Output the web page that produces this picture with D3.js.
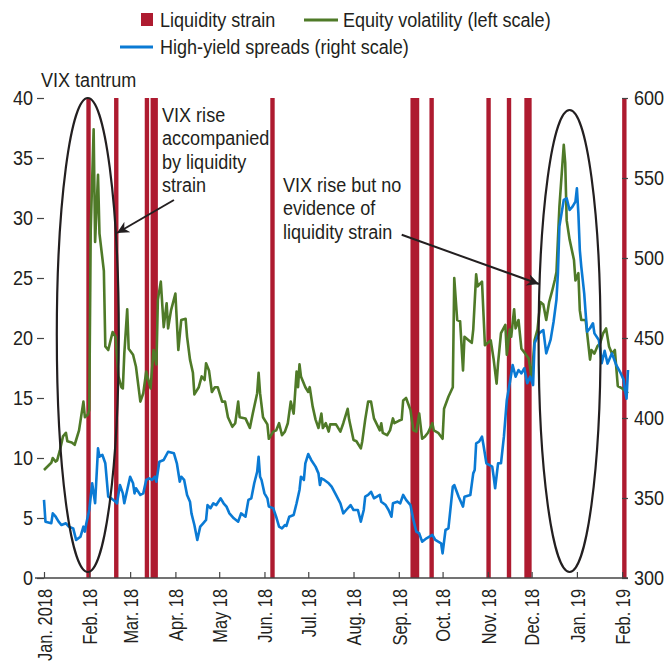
<!DOCTYPE html>
<html>
<head>
<meta charset="utf-8">
<script src="https://cdn.jsdelivr.net/npm/d3@7"></script>
<style>
  body { margin: 0; background: #fff; }
  text { font-family: "Liberation Sans Narrow", "Arial Narrow", "Liberation Sans", Arial, sans-serif; fill: #231f20; }
</style>
</head>
<body>
<svg id="chart" width="669" height="668"></svg>
<script>
// ===================================================
// LIQUIDITY STRAIN vs VIX vs HIGH-YIELD SPREADS
// ---------------------------------------------------
// Left scale: VIX level, right scale: HY spread (bps).
// Red bands mark days with liquidity strain.
// ===================================================

// Month ticks on the x axis and their labels
const monthTicks = ["2018-01-01", "2018-02-01", "2018-03-01", "2018-04-01", "2018-05-01", "2018-06-01", "2018-07-01",
    "2018-08-01", "2018-09-01", "2018-10-01", "2018-11-01", "2018-12-01", "2019-01-01", "2019-02-01"];
const monthLabels = ["Jan. 2018", "Feb. 18", "Mar. 18", "Apr. 18", "May 18", "Jun. 18", "Jul. 18",
    "Aug. 18", "Sep. 18", "Oct. 18", "Nov. 18", "Dec. 18", "Jan. 19", "Feb. 19"];

const leftTicks = [0, 5, 10, 15, 20, 25, 30, 35, 40];
const rightTicks = [300, 350, 400, 450, 500, 550, 600];

// Liquidity strain episodes: [start, end]
const strainEpisodes = [
    ["2018-01-30", "2018-02-02"], ["2018-02-18", "2018-02-21"], ["2018-03-11", "2018-03-14"],
    ["2018-03-15", "2018-03-20"], ["2018-06-05", "2018-06-08"], ["2018-09-09", "2018-09-15"],
    ["2018-09-22", "2018-09-25"], ["2018-10-31", "2018-11-03"], ["2018-11-14", "2018-11-17"],
    ["2018-11-26", "2018-12-01"], ["2019-02-01", "2019-02-04"]
];

// Equity volatility (VIX), left scale
const vix = [
    ["2018-01-01", 9.0], ["2018-01-06", 9.6], ["2018-01-07", 10.0], ["2018-01-09", 9.7], ["2018-01-10", 9.8],
    ["2018-01-12", 10.7], ["2018-01-14", 11.8], ["2018-01-16", 12.1], ["2018-01-17", 11.4], ["2018-01-20", 11.3],
    ["2018-01-22", 11.1], ["2018-01-23", 11.5], ["2018-01-25", 12.3], ["2018-01-28", 14.7], ["2018-01-29", 13.4],
    ["2018-01-31", 13.6], ["2018-02-01", 14.0], ["2018-02-02", 29.0], ["2018-02-04", 37.4], ["2018-02-05", 28.0],
    ["2018-02-07", 33.6], ["2018-02-08", 28.7], ["2018-02-11", 25.6], ["2018-02-12", 19.3], ["2018-02-14", 19.0],
    ["2018-02-17", 20.5], ["2018-02-19", 20.1], ["2018-02-21", 16.8], ["2018-02-23", 15.9], ["2018-02-24", 15.8],
    ["2018-02-25", 18.7], ["2018-02-27", 22.4], ["2018-02-28", 19.1], ["2018-03-03", 18.6], ["2018-03-05", 17.6],
    ["2018-03-08", 14.7], ["2018-03-10", 15.4], ["2018-03-12", 17.2], ["2018-03-15", 15.8], ["2018-03-17", 19.0],
    ["2018-03-19", 17.8], ["2018-03-20", 23.2], ["2018-03-22", 24.7], ["2018-03-24", 20.9], ["2018-03-26", 22.9],
    ["2018-03-27", 20.8], ["2018-03-29", 22.3], ["2018-04-01", 23.7], ["2018-04-03", 19.0], ["2018-04-05", 21.5],
    ["2018-04-08", 21.6], ["2018-04-09", 20.1], ["2018-04-11", 18.2], ["2018-04-13", 17.1], ["2018-04-14", 15.3],
    ["2018-04-17", 15.9], ["2018-04-19", 16.8], ["2018-04-21", 16.5], ["2018-04-22", 17.9], ["2018-04-24", 17.3],
    ["2018-04-26", 15.5], ["2018-04-28", 15.9], ["2018-04-30", 15.9], ["2018-05-03", 14.7], ["2018-05-05", 14.7],
    ["2018-05-07", 13.4], ["2018-05-10", 12.6], ["2018-05-12", 12.9], ["2018-05-14", 14.7], ["2018-05-15", 13.4],
    ["2018-05-19", 13.3], ["2018-05-22", 12.5], ["2018-05-24", 13.7], ["2018-05-27", 15.4], ["2018-05-28", 17.1],
    ["2018-05-29", 15.4], ["2018-05-31", 13.4], ["2018-06-03", 12.8], ["2018-06-04", 11.6], ["2018-06-07", 12.2],
    ["2018-06-09", 12.3], ["2018-06-11", 12.9], ["2018-06-13", 11.9], ["2018-06-15", 12.2], ["2018-06-17", 12.9],
    ["2018-06-19", 14.7], ["2018-06-21", 13.7], ["2018-06-22", 15.4], ["2018-06-23", 17.2], ["2018-06-24", 15.9],
    ["2018-06-25", 17.8], ["2018-06-26", 16.8], ["2018-06-29", 15.9], ["2018-07-01", 15.5], ["2018-07-02", 15.9],
    ["2018-07-04", 14.3], ["2018-07-06", 13.2], ["2018-07-08", 12.5], ["2018-07-10", 13.7], ["2018-07-11", 12.5],
    ["2018-07-13", 12.9], ["2018-07-15", 12.2], ["2018-07-16", 12.8], ["2018-07-20", 12.8], ["2018-07-23", 12.2],
    ["2018-07-25", 12.9], ["2018-07-28", 14.1], ["2018-07-29", 13.2], ["2018-08-01", 11.5], ["2018-08-03", 11.4],
    ["2018-08-06", 10.8], ["2018-08-07", 11.4], ["2018-08-09", 13.2], ["2018-08-11", 14.7], ["2018-08-13", 14.7],
    ["2018-08-15", 13.3], ["2018-08-17", 12.8], ["2018-08-19", 12.3], ["2018-08-20", 12.9], ["2018-08-21", 12.1],
    ["2018-08-24", 11.9], ["2018-08-26", 12.3], ["2018-08-28", 13.3], ["2018-08-29", 12.9], ["2018-09-01", 13.1],
    ["2018-09-03", 13.2], ["2018-09-04", 14.8], ["2018-09-06", 15.0], ["2018-09-09", 14.0], ["2018-09-11", 12.3],
    ["2018-09-13", 12.2], ["2018-09-15", 13.7], ["2018-09-17", 11.6], ["2018-09-19", 11.8], ["2018-09-21", 12.1],
    ["2018-09-24", 12.9], ["2018-09-25", 12.3], ["2018-09-28", 12.1], ["2018-10-01", 11.6], ["2018-10-02", 14.1],
    ["2018-10-05", 15.1], ["2018-10-08", 15.9], ["2018-10-09", 25.0], ["2018-10-11", 21.5], ["2018-10-13", 21.4],
    ["2018-10-15", 17.3], ["2018-10-16", 20.1], ["2018-10-19", 19.8], ["2018-10-21", 19.6], ["2018-10-22", 20.7],
    ["2018-10-24", 25.3], ["2018-10-25", 24.3], ["2018-10-28", 24.7], ["2018-10-30", 19.4], ["2018-11-01", 19.6],
    ["2018-11-03", 19.8], ["2018-11-05", 18.2], ["2018-11-07", 16.2], ["2018-11-08", 17.9], ["2018-11-10", 20.4],
    ["2018-11-13", 21.1], ["2018-11-14", 18.6], ["2018-11-16", 20.7], ["2018-11-17", 20.1], ["2018-11-19", 22.4],
    ["2018-11-20", 20.8], ["2018-11-22", 21.5], ["2018-11-24", 19.1], ["2018-11-26", 18.8], ["2018-11-29", 18.3],
    ["2018-12-01", 16.6], ["2018-12-03", 19.8], ["2018-12-05", 20.7], ["2018-12-07", 23.0], ["2018-12-09", 22.8],
    ["2018-12-11", 21.5], ["2018-12-13", 23.0], ["2018-12-15", 23.9], ["2018-12-17", 24.9], ["2018-12-18", 25.5],
    ["2018-12-19", 28.2], ["2018-12-20", 30.9], ["2018-12-23", 36.1], ["2018-12-24", 34.6], ["2018-12-25", 29.8],
    ["2018-12-27", 28.2], ["2018-12-30", 26.5], ["2018-12-31", 24.8], ["2019-01-02", 25.4], ["2019-01-03", 22.3],
    ["2019-01-04", 21.5], ["2019-01-07", 21.5], ["2019-01-08", 20.4], ["2019-01-10", 18.2], ["2019-01-11", 19.0],
    ["2019-01-13", 18.7], ["2019-01-15", 19.3], ["2019-01-17", 19.6], ["2019-01-19", 20.4], ["2019-01-21", 20.8],
    ["2019-01-23", 19.3], ["2019-01-25", 18.7], ["2019-01-27", 19.0], ["2019-01-29", 16.0], ["2019-02-01", 15.8],
    ["2019-02-03", 15.6], ["2019-02-05", 15.4]
];

// High-yield spreads (bps), right scale
const highYield = [
    ["2018-01-01", 348.8], ["2018-01-02", 335.2], ["2018-01-06", 334.2], ["2018-01-07", 340.4], ["2018-01-09", 338.3],
    ["2018-01-11", 335.2], ["2018-01-13", 333.1], ["2018-01-16", 334.2], ["2018-01-18", 332.1], ["2018-01-21", 331.0],
    ["2018-01-23", 323.8], ["2018-01-26", 325.8], ["2018-01-28", 332.1], ["2018-01-29", 329.0], ["2018-01-30", 334.2],
    ["2018-02-01", 342.5], ["2018-02-03", 359.2], ["2018-02-05", 346.7], ["2018-02-07", 381.0], ["2018-02-08", 375.8],
    ["2018-02-10", 376.9], ["2018-02-12", 371.7], ["2018-02-14", 350.8], ["2018-02-16", 349.8], ["2018-02-19", 347.7],
    ["2018-02-20", 346.7], ["2018-02-22", 358.1], ["2018-02-24", 352.9], ["2018-02-25", 346.7], ["2018-03-01", 363.3],
    ["2018-03-03", 359.2], ["2018-03-04", 352.9], ["2018-03-05", 356.1], ["2018-03-08", 351.9], ["2018-03-10", 352.9],
    ["2018-03-12", 361.3], ["2018-03-14", 362.3], ["2018-03-16", 361.3], ["2018-03-18", 363.3], ["2018-03-19", 360.2],
    ["2018-03-21", 372.7], ["2018-03-24", 373.8], ["2018-03-27", 378.9], ["2018-03-31", 377.9], ["2018-04-02", 371.7],
    ["2018-04-04", 360.2], ["2018-04-05", 363.3], ["2018-04-07", 361.3], ["2018-04-09", 351.9], ["2018-04-11", 347.7],
    ["2018-04-12", 340.4], ["2018-04-14", 333.1], ["2018-04-16", 323.8], ["2018-04-18", 332.1], ["2018-04-20", 334.2],
    ["2018-04-22", 336.3], ["2018-04-23", 345.6], ["2018-04-25", 343.6], ["2018-04-27", 346.7], ["2018-04-29", 345.6],
    ["2018-05-02", 349.8], ["2018-05-04", 346.7], ["2018-05-06", 344.6], ["2018-05-08", 340.4], ["2018-05-11", 337.3],
    ["2018-05-14", 335.2], ["2018-05-16", 340.4], ["2018-05-19", 338.3], ["2018-05-21", 348.8], ["2018-05-23", 349.8],
    ["2018-05-25", 359.2], ["2018-05-27", 366.4], ["2018-05-28", 375.8], ["2018-05-29", 363.3], ["2018-05-30", 361.3],
    ["2018-06-01", 352.9], ["2018-06-03", 349.8], ["2018-06-04", 344.6], ["2018-06-07", 343.6], ["2018-06-09", 338.3],
    ["2018-06-11", 332.1], ["2018-06-13", 331.0], ["2018-06-15", 333.1], ["2018-06-16", 332.5], ["2018-06-18", 338.3],
    ["2018-06-21", 339.4], ["2018-06-23", 346.7], ["2018-06-25", 355.0], ["2018-06-26", 363.3], ["2018-06-28", 361.3],
    ["2018-06-29", 371.7], ["2018-07-01", 377.5], ["2018-07-03", 373.8], ["2018-07-06", 369.6], ["2018-07-08", 365.4],
    ["2018-07-09", 358.1], ["2018-07-10", 362.3], ["2018-07-12", 361.3], ["2018-07-15", 359.2], ["2018-07-17", 357.1],
    ["2018-07-20", 351.9], ["2018-07-23", 346.7], ["2018-07-25", 340.4], ["2018-07-27", 342.5], ["2018-07-30", 345.6],
    ["2018-08-01", 342.5], ["2018-08-04", 342.5], ["2018-08-06", 335.2], ["2018-08-08", 342.5], ["2018-08-09", 350.8],
    ["2018-08-11", 351.9], ["2018-08-13", 353.9], ["2018-08-15", 349.8], ["2018-08-17", 350.8], ["2018-08-19", 351.9],
    ["2018-08-20", 347.7], ["2018-08-23", 345.6], ["2018-08-25", 342.5], ["2018-08-27", 338.3], ["2018-08-28", 346.7],
    ["2018-08-31", 347.7], ["2018-09-02", 346.7], ["2018-09-04", 351.9], ["2018-09-06", 348.8], ["2018-09-09", 345.6],
    ["2018-09-11", 336.3], ["2018-09-13", 329.0], ["2018-09-15", 327.9], ["2018-09-17", 322.7], ["2018-09-20", 324.8],
    ["2018-09-24", 326.9], ["2018-09-26", 323.8], ["2018-09-28", 322.7], ["2018-09-30", 321.7], ["2018-10-01", 315.4],
    ["2018-10-03", 330.0], ["2018-10-05", 331.0], ["2018-10-08", 357.1], ["2018-10-09", 358.1], ["2018-10-12", 350.8],
    ["2018-10-15", 344.6], ["2018-10-16", 350.8], ["2018-10-20", 351.9], ["2018-10-22", 365.4], ["2018-10-23", 367.5],
    ["2018-10-24", 384.2], ["2018-10-26", 385.2], ["2018-10-28", 388.3], ["2018-10-29", 383.1], ["2018-10-31", 371.7],
    ["2018-11-04", 369.6], ["2018-11-05", 363.3], ["2018-11-06", 356.1], ["2018-11-08", 371.7], ["2018-11-10", 371.7],
    ["2018-11-12", 388.3], ["2018-11-14", 411.3], ["2018-11-16", 421.7], ["2018-11-18", 433.1], ["2018-11-20", 425.8],
    ["2018-11-22", 430.0], ["2018-11-24", 427.9], ["2018-11-26", 431.1], ["2018-11-28", 421.7], ["2018-11-30", 425.8],
    ["2018-12-02", 420.6], ["2018-12-03", 446.7], ["2018-12-06", 452.9], ["2018-12-09", 455.0], ["2018-12-11", 440.4],
    ["2018-12-14", 449.0], ["2018-12-16", 460.0], ["2018-12-18", 474.0], ["2018-12-19", 490.4], ["2018-12-20", 519.6],
    ["2018-12-23", 536.3], ["2018-12-25", 537.3], ["2018-12-27", 530.0], ["2018-12-29", 532.1], ["2018-12-31", 535.2],
    ["2019-01-01", 543.5], ["2019-01-02", 528.0], ["2019-01-03", 505.0], ["2019-01-04", 494.6], ["2019-01-06", 477.9],
    ["2019-01-07", 465.4], ["2019-01-08", 453.9], ["2019-01-10", 456.1], ["2019-01-12", 459.2], ["2019-01-13", 452.9],
    ["2019-01-16", 448.8], ["2019-01-17", 442.5], ["2019-01-18", 434.2], ["2019-01-20", 442.0], ["2019-01-22", 434.0],
    ["2019-01-25", 440.4], ["2019-01-28", 433.0], ["2019-01-31", 428.0], ["2019-02-02", 424.0], ["2019-02-03", 417.0],
    ["2019-02-04", 412.0], ["2019-02-05", 430.0]
];

// Colours
const RED = "#ae1b30";
const GREEN = "#4f7a28";
const BLUE = "#0a7ad4";
const INK = "#231f20";

const svg = d3.select("#chart");
const parseDay = d3.timeParse("%Y-%m-%d");

// Narrow every text of a selection (the regular sans -> condensed look),
// keeping its anchor point in place
function squeeze(sel, k = 0.86) {
    sel.each(function () {
        const t = d3.select(this);
        const x0 = +t.attr("x") || 0;
        const base = t.attr("transform") || "";
        t.attr("x", x0 / k).attr("transform", `${base} scale(${k},1)`);
        t.selectAll("tspan").each(function () {
            const s = d3.select(this);
            if (s.attr("x") != null) s.attr("x", +s.attr("x") / k);
        });
    });
}

// Scales
const x = d3.scaleTime()
    .domain([parseDay("2018-01-01"), parseDay("2019-02-05")])
    .range([44, 628]);
const yLeft = d3.scaleLinear().domain([0, 40]).range([578, 98]);
const yRight = d3.scaleLinear().domain([300, 600]).range([578, 98]);


// LIQUIDITY STRAIN BANDS
svg.append("g")
    .selectAll("rect")
    .data(strainEpisodes)
    .join("rect")
    .attr("x", d => x(parseDay(d[0])))
    .attr("width", d => x(parseDay(d[1])) - x(parseDay(d[0])))
    .attr("y", yLeft(40))
    .attr("height", yLeft(0) - yLeft(40))
    .attr("fill", RED);


// LINES
const vixLine = d3.line()
    .x(d => x(parseDay(d[0])))
    .y(d => yLeft(d[1]));
const hyLine = d3.line()
    .x(d => x(parseDay(d[0])))
    .y(d => yRight(d[1]));

svg.append("path")
    .datum(vix)
    .attr("d", vixLine)
    .attr("fill", "none")
    .attr("stroke", GREEN)
    .attr("stroke-width", 2.6)
    .attr("stroke-linejoin", "round");

svg.append("path")
    .datum(highYield)
    .attr("d", hyLine)
    .attr("fill", "none")
    .attr("stroke", BLUE)
    .attr("stroke-width", 2.6)
    .attr("stroke-linejoin", "round");


// AXES
const leftAxis = svg.append("g")
    .attr("transform", "translate(44,0)")
    .call(d3.axisLeft(yLeft).tickValues(leftTicks).tickSize(7).tickPadding(4));
const rightAxis = svg.append("g")
    .attr("transform", "translate(622,0)")
    .call(d3.axisRight(yRight).tickValues(rightTicks).tickSize(6).tickPadding(6));

const bottomAxis = svg.append("g")
    .attr("transform", `translate(0,${yLeft(0)})`)
    .call(d3.axisBottom(x)
        .tickValues(monthTicks.map(parseDay))
        .tickFormat((d, i) => monthLabels[i])
        .tickSize(-6));

[leftAxis, rightAxis, bottomAxis].forEach(g => {
    g.select(".domain").remove();
    g.selectAll(".tick line").attr("stroke", "#444").attr("stroke-width", 1.2);
    g.selectAll("text")
        .style("font-size", "21px")
        .attr("fill", INK);
});

// Rotated month labels
bottomAxis.selectAll("text")
    .attr("transform", "rotate(-90)")
    .attr("x", -11)
    .attr("y", 0)
    .attr("dy", "0.35em")
    .style("text-anchor", "end");

squeeze(leftAxis.selectAll("text"));
squeeze(rightAxis.selectAll("text"));
squeeze(bottomAxis.selectAll("text"), 0.78);

// Baseline
svg.append("line")
    .attr("x1", 35).attr("x2", 628)
    .attr("y1", yLeft(0)).attr("y2", yLeft(0))
    .attr("stroke", "#444").attr("stroke-width", 1.3);


// ANNOTATIONS
// Ellipses around the two VIX spikes (centre date, left-scale span, half width in px)
const ellipses = [
    { date: "2018-01-31", top: 40, bottom: 0.5, rx: 31 },
    { date: "2018-12-27", top: 39, bottom: 0.5, rx: 31 }
];
svg.append("g")
    .selectAll("ellipse")
    .data(ellipses)
    .join("ellipse")
    .attr("cx", d => x(parseDay(d.date)))
    .attr("cy", d => (yLeft(d.top) + yLeft(d.bottom)) / 2)
    .attr("rx", d => d.rx)
    .attr("ry", d => (yLeft(d.bottom) - yLeft(d.top)) / 2)
    .attr("fill", "none")
    .attr("stroke", INK)
    .attr("stroke-width", 2.2);

// Arrow heads
svg.append("defs").append("marker")
    .attr("id", "arrow")
    .attr("viewBox", "0 0 10 10")
    .attr("refX", 10).attr("refY", 5)
    .attr("markerWidth", 7).attr("markerHeight", 6)
    .attr("markerUnits", "strokeWidth")
    .attr("orient", "auto")
    .append("path")
    .attr("d", "M0,0 L10,5 L0,10 L3,5 Z")
    .attr("fill", INK);

const arrows = [
    { from: ["2018-03-31", 31.5], to: ["2018-02-20", 28.75] },
    { from: ["2018-09-03", 28.6], to: ["2018-12-06", 24.5] }
];
svg.append("g")
    .selectAll("line")
    .data(arrows)
    .join("line")
    .attr("x1", d => x(parseDay(d.from[0])))
    .attr("y1", d => yLeft(d.from[1]))
    .attr("x2", d => x(parseDay(d.to[0])))
    .attr("y2", d => yLeft(d.to[1]))
    .attr("stroke", INK)
    .attr("stroke-width", 2)
    .attr("marker-end", "url(#arrow)");

// Text notes
const notes = [
    { x: 41, y: 87, lines: ["VIX tantrum"] },
    { x: 162, y: 122, lines: ["VIX rise", "accompanied", "by liquidity", "strain"] },
    { x: 283, y: 192, lines: ["VIX rise but no", "evidence of", "liquidity strain"] }
];
notes.forEach(n => {
    const t = svg.append("text")
        .attr("x", n.x)
        .attr("y", n.y)
        .style("font-size", "21px");
    n.lines.forEach((line, i) => {
        t.append("tspan")
            .attr("x", n.x)
            .attr("dy", i === 0 ? 0 : 23.5)
            .text(line);
    });
    squeeze(t);
});


// LEGEND
const legend = svg.append("g").style("font-size", "21px");
legend.append("rect")
    .attr("x", 141).attr("y", 13)
    .attr("width", 12).attr("height", 13)
    .attr("fill", RED);
legend.append("text").attr("x", 160).attr("y", 27).text("Liquidity strain");

legend.append("line")
    .attr("x1", 304).attr("x2", 338).attr("y1", 20).attr("y2", 20)
    .attr("stroke", GREEN).attr("stroke-width", 3);
legend.append("text").attr("x", 343).attr("y", 27).text("Equity volatility (left scale)");

legend.append("line")
    .attr("x1", 120).attr("x2", 153).attr("y1", 47).attr("y2", 47)
    .attr("stroke", BLUE).attr("stroke-width", 3);
legend.append("text").attr("x", 160).attr("y", 54).text("High-yield spreads (right scale)");

squeeze(legend.selectAll("text"));
</script>
</body>
</html>
